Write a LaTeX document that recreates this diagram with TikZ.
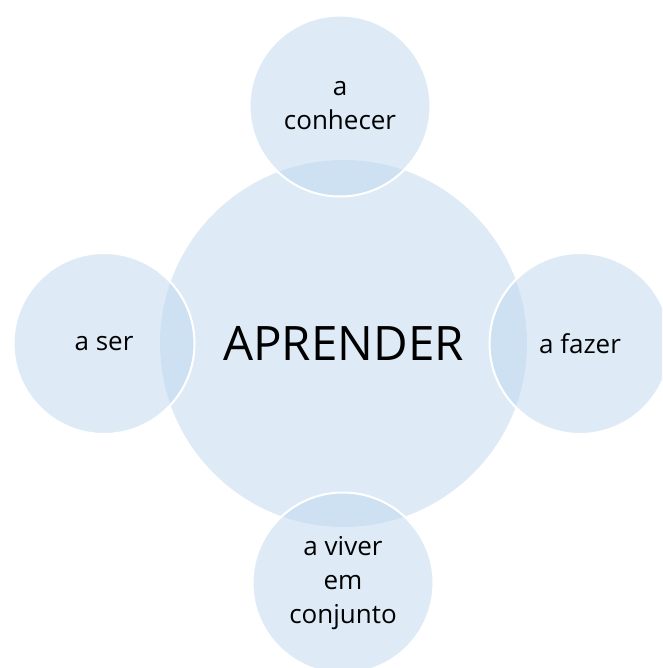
\documentclass[tikz,border=0pt]{standalone}
\usepackage{fontspec}
\setmainfont{Open Sans}
\definecolor{circfill}{RGB}{189,215,238}
\begin{document}
\begin{tikzpicture}[x=1pt,y=-1pt,
  bubble/.style={circle,fill=circfill,fill opacity=0.5,text opacity=1,draw=white,line width=2pt,inner sep=0pt,align=center,font=\fontsize{26}{34}\selectfont,text=black},
  hub/.style={circle,fill=circfill,fill opacity=0.5,text opacity=1,draw=none,inner sep=0pt,font=\fontsize{47.5}{50}\selectfont,text=black}]
\useasboundingbox (0,0) rectangle (662,668);
\begin{scope}
\clip (0,0) rectangle (662,668);
\node[hub,minimum size=367pt] (main) at (343.5,343.5) {APRENDER};
\node[bubble,minimum size=181pt] (top) at (340,106) {a\\conhecer};
\node[bubble,minimum size=181pt] (left) at (104,343.5) {a ser};
\node[bubble,minimum size=181pt] (right) at (580,343.5) {a fazer};
\node[bubble,minimum size=181pt] (bottom) at (343,583) {a viver\\em\\conjunto};
\end{scope}
\end{tikzpicture}
\end{document}
